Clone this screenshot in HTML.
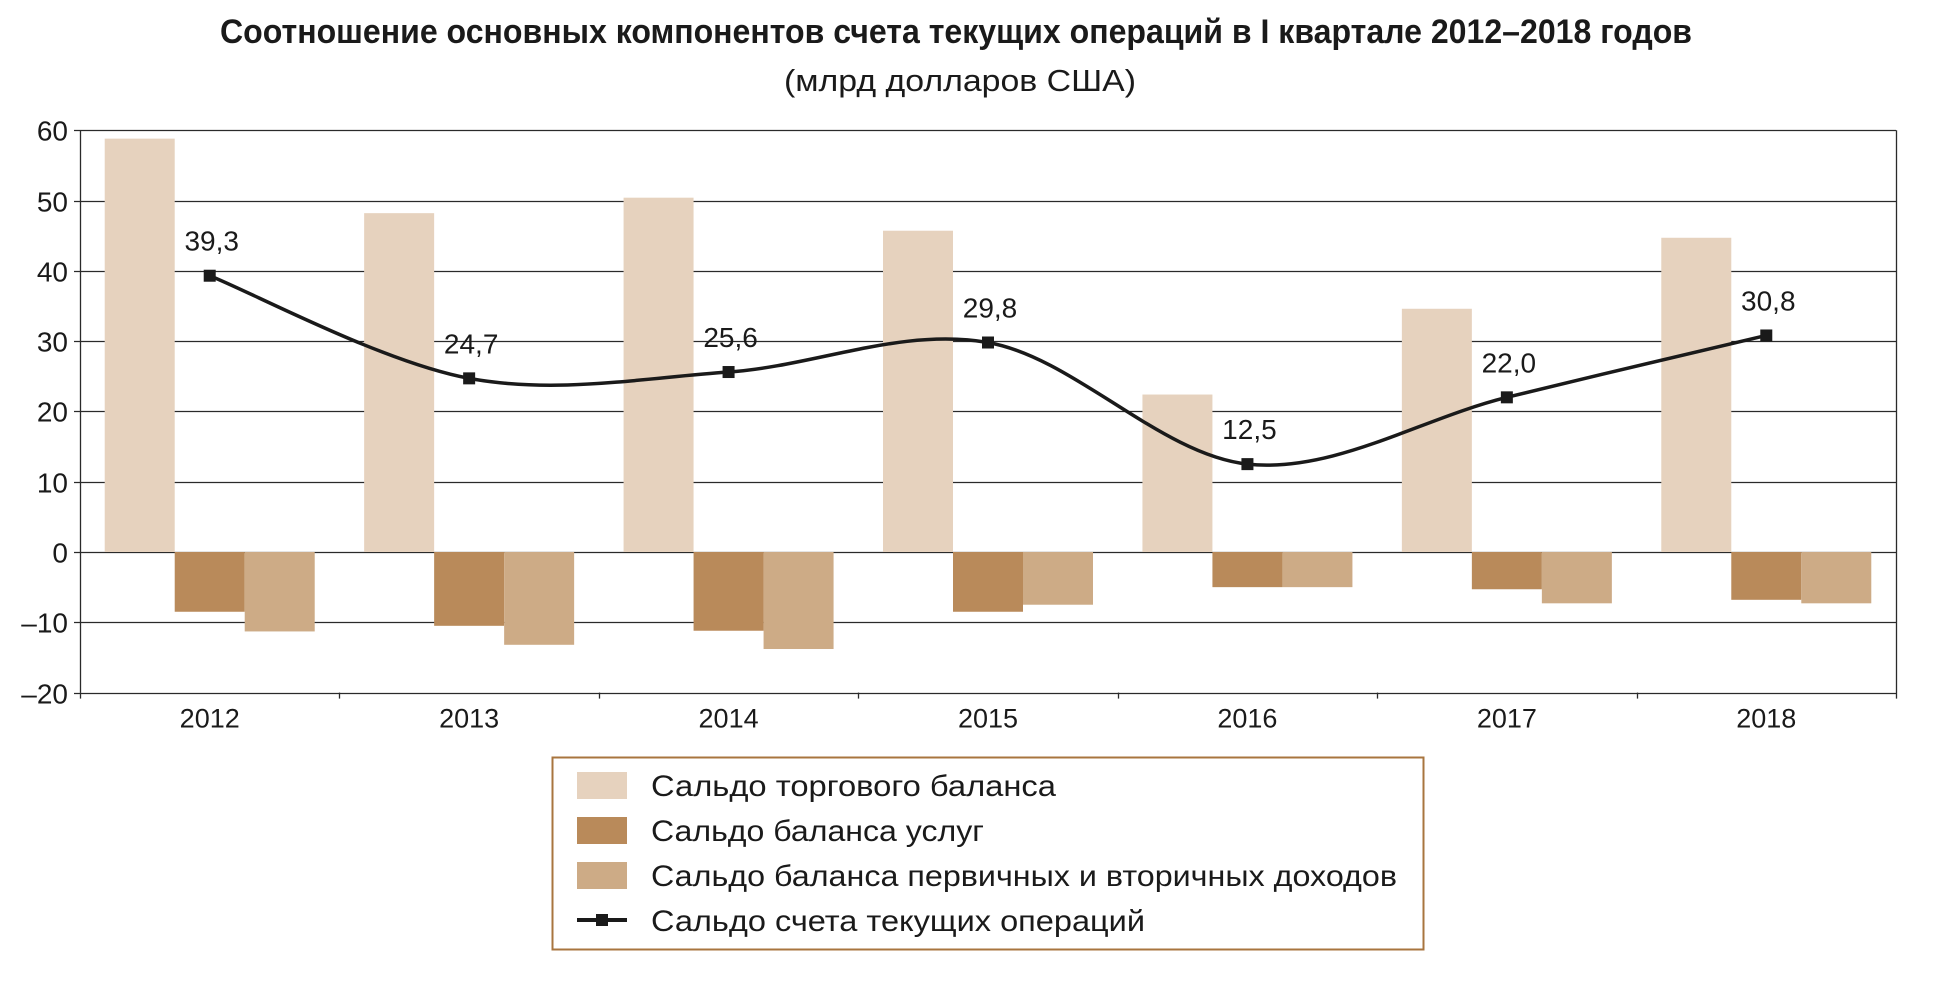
<!DOCTYPE html>
<html><head><meta charset="utf-8"><style>
html,body{margin:0;padding:0;background:#fff;width:1935px;height:982px;overflow:hidden}
svg{display:block}
text{font-family:"Liberation Sans","DejaVu Sans",sans-serif;fill:#1a1a1a}
</style></head><body>
<svg id="s" width="1935" height="982" viewBox="0 0 1935 982" xmlns="http://www.w3.org/2000/svg">
<text x="956" y="43" text-anchor="middle" font-size="34" font-weight="bold" textLength="1472" lengthAdjust="spacingAndGlyphs">Соотношение основных компонентов счета текущих операций в I квартале 2012–2018 годов</text>
<text x="960" y="91" text-anchor="middle" font-size="31" textLength="352" lengthAdjust="spacingAndGlyphs">(млрд долларов США)</text>
<g id="g"></g>
<rect x="552.5" y="757.5" width="871" height="192" fill="none" stroke="#a8753f" stroke-width="2"/>
<rect x="577" y="772" width="50" height="27" fill="#e6d2be"/>
<rect x="577" y="817" width="50" height="27" fill="#b98a5a"/>
<rect x="577" y="862" width="50" height="27" fill="#cdab86"/>
<line x1="577" y1="920" x2="627" y2="920" stroke="#1a1a1a" stroke-width="4"/>
<rect x="596" y="914" width="12" height="12" fill="#1a1a1a"/>
<text x="651" y="796" font-size="30" textLength="405" lengthAdjust="spacingAndGlyphs">Сальдо торгового баланса</text>
<text x="651" y="841" font-size="30" textLength="333" lengthAdjust="spacingAndGlyphs">Сальдо баланса услуг</text>
<text x="651" y="886" font-size="30" textLength="746" lengthAdjust="spacingAndGlyphs">Сальдо баланса первичных и вторичных доходов</text>
<text x="651" y="931" font-size="30" textLength="494" lengthAdjust="spacingAndGlyphs">Сальдо счета текущих операций</text>
</svg>
<script>
(function(){
var g=document.getElementById('g'),h='';
var L=80,R=1896,Z=552,U=7.03,W=(R-L)/7;
function y(v){return Z-v*U;}
var years=[2012,2013,2014,2015,2016,2017,2018];
var tr=[58.8,48.2,50.4,45.7,22.4,34.6,44.7];
var sv=[-8.5,-10.5,-11.2,-8.5,-5.0,-5.3,-6.8];
var pr=[-11.3,-13.2,-13.8,-7.5,-5.0,-7.3,-7.3];
var cu=[39.3,24.7,25.6,29.8,12.5,22.0,30.8];
for(var v=-20;v<=60;v+=10){var yy=Math.round(y(v))+0.5;
h+='<line x1="'+(L-6)+'" y1="'+yy+'" x2="'+R+'" y2="'+yy+'" stroke="#2a2a2a" stroke-width="1.3"/>';
h+='<text x="'+(L-12)+'" y="'+(yy+10)+'" text-anchor="end" font-size="28">'+(v<0?'\u2013'+(-v):v)+'</text>';}
h+='<line x1="'+L+'.5" y1="'+y(60)+'" x2="'+L+'.5" y2="'+y(-20)+'" stroke="#2a2a2a" stroke-width="1.3"/>';
h+='<line x1="'+R+'.5" y1="'+y(60)+'" x2="'+R+'.5" y2="'+(y(-20)+6)+'" stroke="#2a2a2a" stroke-width="1.3"/>';
var bw=70,off=(W-3*bw)/2;
for(var i=0;i<7;i++){var x0=L+i*W;
h+='<line x1="'+Math.round(x0)+'.5" y1="'+y(-20)+'" x2="'+Math.round(x0)+'.5" y2="'+(y(-20)+6)+'" stroke="#2a2a2a" stroke-width="1.3"/>';
var bx=x0+off;
h+='<rect x="'+bx+'" y="'+y(tr[i])+'" width="'+bw+'" height="'+(tr[i]*U)+'" fill="#e6d2be"/>';
h+='<rect x="'+(bx+bw)+'" y="'+Z+'" width="'+bw+'" height="'+(-sv[i]*U)+'" fill="#b98a5a"/>';
h+='<rect x="'+(bx+2*bw)+'" y="'+Z+'" width="'+bw+'" height="'+(-pr[i]*U)+'" fill="#cdab86"/>';
h+='<text x="'+(x0+W/2)+'" y="'+(y(-20)+35)+'" text-anchor="middle" font-size="27">'+years[i]+'</text>';}
var P=[];for(i=0;i<7;i++)P.push([L+i*W+W/2,y(cu[i])]);
var d='M'+P[0][0]+','+P[0][1];
for(i=0;i<6;i++){var p0=P[i-1]||P[i],p1=P[i],p2=P[i+1],p3=P[i+2]||P[i+1];
var c1=[p1[0]+(p2[0]-p0[0])/6,p1[1]+(p2[1]-p0[1])/6],c2=[p2[0]-(p3[0]-p1[0])/6,p2[1]-(p3[1]-p1[1])/6];
d+=' C'+c1+' '+c2+' '+p2;}
h+='<path d="'+d+'" fill="none" stroke="#1a1a1a" stroke-width="3.5"/>';
for(i=0;i<7;i++){h+='<rect x="'+(P[i][0]-6)+'" y="'+(P[i][1]-6)+'" width="12" height="12" fill="#1a1a1a"/>';
h+='<text x="'+(P[i][0]+2)+'" y="'+(P[i][1]-25)+'" text-anchor="middle" font-size="28">'+cu[i].toFixed(1).replace('.',',')+'</text>';}
g.innerHTML=h;
})();
</script>
</body></html>
